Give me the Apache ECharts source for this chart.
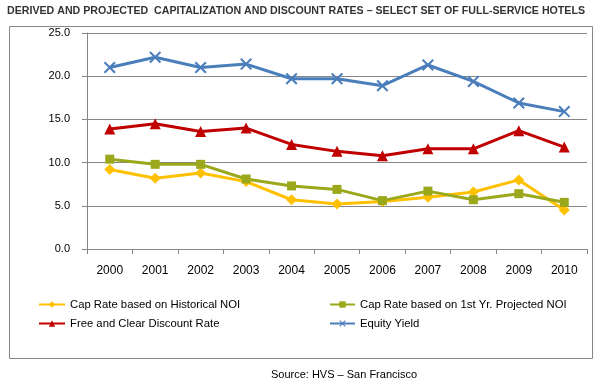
<!DOCTYPE html>
<html><head><meta charset="utf-8">
<script src="https://cdn.jsdelivr.net/npm/echarts@6/dist/echarts.min.js"></script>
<style>html,body{margin:0;padding:0;background:#fff}#c{width:600px;height:383px}</style>
</head><body><div id="c"></div>
<script>
const categories = ['2000','2001','2002','2003','2004','2005','2006','2007','2008','2009','2010'];
const capHistorical = [9.2, 8.2, 8.8, 7.8, 5.7, 5.2, 5.5, 6.0, 6.6, 8.0, 4.5];
const capProjected = [10.4, 9.8, 9.8, 8.1, 7.3, 6.9, 5.6, 6.7, 5.7, 6.4, 5.4];
const discountRate = [13.9, 14.5, 13.6, 14.0, 12.1, 11.3, 10.8, 11.6, 11.6, 13.7, 11.8];
const equityYield = [21.0, 22.2, 21.0, 21.4, 19.7, 19.7, 18.9, 21.3, 19.4, 16.9, 15.9];
const yTicks = [0, 5, 10, 15, 20, 25];
const names = ['Cap Rate based on Historical NOI','Cap Rate based on 1st Yr. Projected NOI','Free and Clear Discount Rate','Equity Yield'];
const titleText = 'DERIVED AND PROJECTED  CAPITALIZATION AND DISCOUNT RATES \u2013 SELECT SET OF FULL-SERVICE HOTELS';
const sourceText = 'Source: HVS \u2013 San Francisco';

const FONT = '"Liberation Sans", Arial, sans-serif';
const TITLE_FONT = 'bold 11px "Liberation Sans", Arial, sans-serif';
const TITLE_WIDTH = 578;
const ctx = document.createElement('canvas').getContext('2d');
ctx.font = TITLE_FONT;
const titleScale = TITLE_WIDTH / ctx.measureText(titleText).width;

const xPath = 'path://M0,1.2 L1.2,0 L10,8.8 L8.8,10 Z M8.8,0 L10,1.2 L1.2,10 L0,8.8 Z';
const chart = echarts.init(document.getElementById('c'));
function ser(name, data, color, symbol, size) {
  return {name, type:'line', data, symbol, symbolSize:size, showSymbol:true,
    lineStyle:{color, width:3}, itemStyle:{color}, z: 2, animation:false};
}
const legendText = {fontSize:11.3, fontFamily:FONT, color:'#000'};
chart.setOption({
  animation:false,
  graphic:[
    {type:'rect', shape:{x:9.5,y:26.5,width:583,height:332}, style:{fill:'none', stroke:'#868686', lineWidth:1}, z:-1},
    {type:'text', x:7, y:5, scaleX:titleScale, style:{text:titleText, font:TITLE_FONT, fill:'#333'}},
    {type:'text', x:344, y:369, style:{text:sourceText, font:'11px '+FONT, fill:'#000', align:'center'}}
  ],
  grid:{left:87, right:13, top:33, bottom:134},
  xAxis:{type:'category', data:categories, boundaryGap:true,
    axisLine:{lineStyle:{color:'#868686'}}, axisTick:{show:true, length:5, lineStyle:{color:'#868686'}},
    axisLabel:{color:'#000', fontSize:12, fontFamily:FONT, margin:16}},
  yAxis:{type:'value', min:0, max:25, interval:5,
    axisLine:{show:true, lineStyle:{color:'#868686'}}, axisTick:{show:true, length:5, lineStyle:{color:'#868686'}},
    splitLine:{lineStyle:{color:'#868686'}},
    axisLabel:{color:'#000', fontSize:11, fontFamily:FONT, margin:17, formatter:v=>v.toFixed(1)}},
  legend:[
    {orient:'vertical', left:38, top:299, padding:0, itemGap:8, itemWidth:26, itemHeight:8, data:[names[0], names[2]],
      textStyle:legendText},
    {orient:'vertical', left:329, top:299, padding:0, itemGap:8, itemWidth:25, itemHeight:8, data:[names[1], names[3]],
      textStyle:legendText}
  ],
  series:[
    ser(names[0], capHistorical, '#FFC000', 'diamond', 11),
    ser(names[1], capProjected, '#9BA81C', 'rect', 9),
    ser(names[2], discountRate, '#C00000', 'triangle', 11),
    ser(names[3], equityYield, '#4A7EBB', xPath, 12)
  ]
});
</script></body></html>
